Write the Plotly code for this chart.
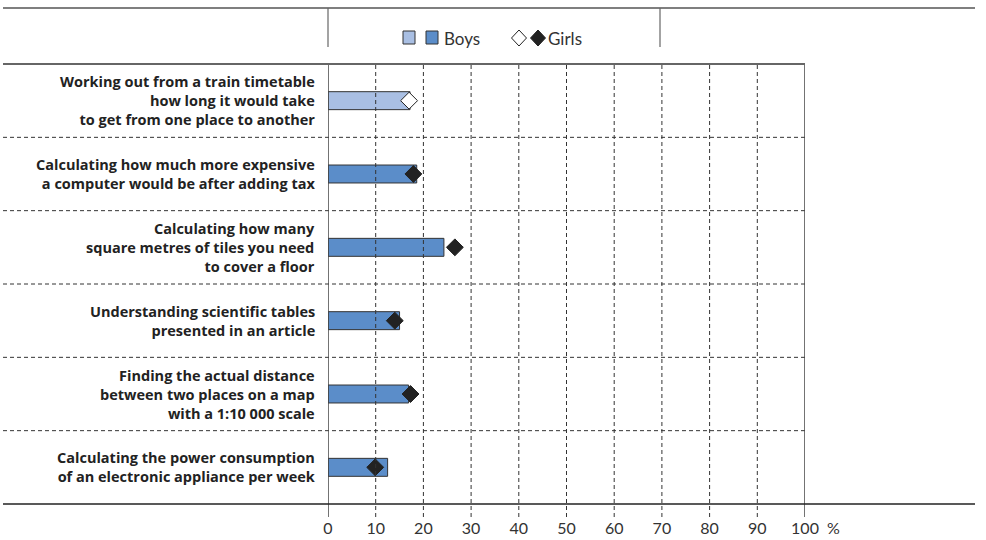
import plotly.graph_objects as go

categories = [
    "Working out from a train timetable<br>how long it would take<br>to get from one place to another",
    "Calculating how much more expensive<br>a computer would be after adding tax",
    "Calculating how many<br>square metres of tiles you need<br>to cover a floor",
    "Understanding scientific tables<br>presented in an article",
    "Finding the actual distance<br>between two places on a map<br>with a 1:10 000 scale",
    "Calculating the power consumption<br>of an electronic appliance per week",
]
boys = [17.2, 18.6, 24.3, 15.0, 16.9, 12.5]
girls = [17.0, 17.9, 26.6, 14.0, 17.3, 9.9]
significant = [False, True, True, True, True, True]
tick_values = [0, 10, 20, 30, 40, 50, 60, 70, 80, 90, 100]
tick_labels = ["0", "10", "20", "30", "40", "50", "60", "70", "80", "90", "100"]

W, H = 986, 540
L, R, T, B = 328, 805, 64, 504


def px(x):
    return (x - L) / (R - L)


def py(y):
    return (B - y) / (B - T)


LIGHT = "#a9bfe3"
DARK = "#5b8dc9"
INK = "#222222"

fig = go.Figure()

bar_colors = [DARK if s else LIGHT for s in significant]
fig.add_trace(go.Bar(
    x=boys, y=categories, orientation="h", width=0.245,
    marker=dict(color=bar_colors, line=dict(color="#333333", width=1)),
    showlegend=False, hoverinfo="x",
))
dia_fill = ["#222222" if s else "white" for s in significant]
fig.add_trace(go.Scatter(
    x=girls, y=categories, mode="markers",
    marker=dict(symbol="diamond", size=13, color=dia_fill,
                line=dict(color="#222222", width=1)),
    showlegend=False, cliponaxis=False,
))

shapes = []
# row separators
for k in range(len(categories) - 1):
    shapes.append(dict(type="line", xref="paper", yref="y",
                       x0=px(3), x1=1, y0=k + 0.5, y1=k + 0.5,
                       line=dict(color="#333333", width=1, dash="4px,3px")))
# vertical grid lines
for v in tick_values:
    if v in (0, 100):
        shapes.append(dict(type="line", xref="x", yref="paper",
                           x0=v, x1=v, y0=py(517), y1=1,
                           line=dict(color="#444444", width=1.5)))
    else:
        shapes.append(dict(type="line", xref="x", yref="paper",
                           x0=v, x1=v, y0=py(517), y1=1,
                           line=dict(color="#333333", width=1, dash="4px,3px")))
# frame lines
shapes.append(dict(type="line", xref="paper", yref="paper", x0=px(3), x1=1,
                   y0=1, y1=1, line=dict(color="#666666", width=2)))
shapes.append(dict(type="line", xref="paper", yref="paper", x0=px(3), x1=px(975),
                   y0=0, y1=0, line=dict(color="#222222", width=1.5)))
shapes.append(dict(type="line", xref="paper", yref="paper", x0=px(3), x1=px(975),
                   y0=py(8), y1=py(8), line=dict(color="#555555", width=1.5)))
for xx in (328, 660):
    shapes.append(dict(type="line", xref="paper", yref="paper", x0=px(xx), x1=px(xx),
                       y0=py(47), y1=py(8), line=dict(color="#666666", width=1.2)))
# legend symbols
for (x0, col) in ((403, LIGHT), (426, DARK)):
    shapes.append(dict(type="rect", xref="paper", yref="paper",
                       x0=px(x0), x1=px(x0 + 12), y0=py(44), y1=py(31),
                       fillcolor=col, line=dict(color="#333333", width=1)))
for (cx, col) in ((519, "white"), (538, "#222222")):
    path = "M {a},{b} L {c},{d} L {e},{b} L {c},{f} Z".format(
        a=px(cx - 7.5), b=py(38), c=px(cx), d=py(30), e=px(cx + 7.5), f=py(46))
    shapes.append(dict(type="path", xref="paper", yref="paper", path=path,
                       fillcolor=col, line=dict(color="#222222", width=1)))

annotations = []
for c in categories:
    annotations.append(dict(xref="paper", yref="y", x=px(317), y=c, text=c,
                            xanchor="right", yanchor="middle", align="right",
                            showarrow=False,
                            font=dict(family="Open Sans", size=14.5, color=INK,
                                      weight="bold")))
annotations.append(dict(xref="paper", yref="paper", x=px(442), y=py(38), text="Boys",
                        xanchor="left", yanchor="middle", showarrow=False,
                        font=dict(family="Lato", size=17, color="#333333")))
annotations.append(dict(xref="paper", yref="paper", x=px(546), y=py(38), text="Girls",
                        xanchor="left", yanchor="middle", showarrow=False,
                        font=dict(family="Lato", size=17, color="#333333")))
annotations.append(dict(xref="paper", yref="paper", x=px(825), y=py(527), text="%",
                        xanchor="left", yanchor="middle", showarrow=False,
                        font=dict(family="Lato", size=16, color="#333333")))

fig.update_layout(
    width=W, height=H,
    margin=dict(l=L, r=W - R, t=T, b=H - B, pad=0),
    plot_bgcolor="white", paper_bgcolor="white",
    xaxis=dict(range=[0, 100], tickvals=tick_values, ticktext=tick_labels,
               showgrid=False, zeroline=False, showline=False, automargin=False,
               ticks="outside", ticklen=10, tickcolor="rgba(0,0,0,0)",
               tickfont=dict(family="Lato", size=16, color="#333333"), fixedrange=True),
    yaxis=dict(categoryorder="array", categoryarray=categories,
               range=[len(categories) - 0.5, -0.5], automargin=False,
               showticklabels=False, showgrid=False, zeroline=False, showline=False,
               ticks="", fixedrange=True),
    shapes=shapes, annotations=annotations, showlegend=False,
)

fig.write_html("out.html", post_script="document.body.style.margin='0';",
               config={"displayModeBar": False})
